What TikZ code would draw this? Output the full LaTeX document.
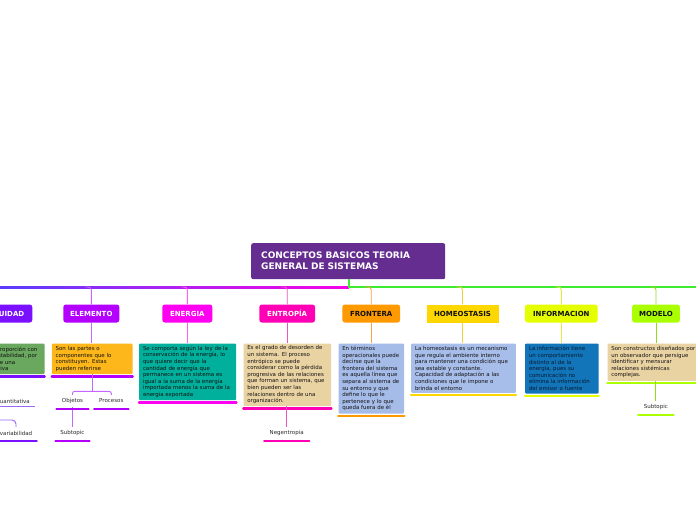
\documentclass[tikz,border=0pt]{standalone}
\usepackage{fontspec}
\setmainfont{DejaVu Sans}
\usetikzlibrary{calc}
\definecolor{rootc}{HTML}{662D91}
\definecolor{lineL}{HTML}{5A3CFF}
\definecolor{lineM}{HTML}{B020F0}
\definecolor{lineR}{HTML}{F700E6}
\definecolor{lineG}{HTML}{3DEB2F}
\definecolor{cA}{HTML}{7B0FFF}
\definecolor{cB}{HTML}{B300FF}
\definecolor{cC}{HTML}{FF00F0}
\definecolor{cD}{HTML}{FF00B4}
\definecolor{cE}{HTML}{FF9900}
\definecolor{cF}{HTML}{FFD700}
\definecolor{cG}{HTML}{E6FF00}
\definecolor{cH}{HTML}{AAFF00}
\definecolor{dA}{HTML}{9A66FF}
\definecolor{dB}{HTML}{C466FF}
\definecolor{dC}{HTML}{FF60F2}
\definecolor{dD}{HTML}{EE55BB}
\definecolor{dE}{HTML}{F5A545}
\definecolor{dF}{HTML}{F0D03A}
\definecolor{dG}{HTML}{E0EC45}
\definecolor{dH}{HTML}{90DC25}
\definecolor{eA}{HTML}{6AA85F}
\definecolor{eB}{HTML}{FDB71A}
\definecolor{eC}{HTML}{00B09C}
\definecolor{eD}{HTML}{EAD3A3}
\definecolor{eE}{HTML}{A6BCE8}
\definecolor{eF}{HTML}{A8BEEA}
\definecolor{eG}{HTML}{1274B9}
\definecolor{darktext}{HTML}{111111}
\definecolor{desctext}{HTML}{111111}
\definecolor{subtext}{HTML}{2A2A2A}
\definecolor{infotext}{HTML}{0A1A2E}
\newcommand{\myline}[1]{\mbox{#1}}
\begin{document}
\begin{tikzpicture}[x=1pt,y=-1pt,
  topic/.style={rectangle, rounded corners=2.5pt, minimum height=18pt, inner sep=0pt, font=\fontsize{7}{8}\selectfont\bfseries},
  desc/.style={rectangle, rounded corners=1pt, anchor=north west, inner xsep=3.8pt, inner ysep=0pt, align=left, font=\fontsize{5.45}{6.6}\selectfont, text=desctext},
  subt/.style={rectangle, inner sep=0pt, minimum height=12pt, font=\fontsize{5.5}{6.6}\selectfont, text=subtext},
  bar/.style={line width=2.3pt, line cap=round},
  link/.style={line width=0.9pt},
]
\useasboundingbox (0,0) rectangle (696,520);
\clip (0,0) rectangle (696,520);
\fill[white] (0,0) rectangle (696,520);

% root
\node[fill=rootc, rounded corners=2pt, anchor=north west, minimum width=194pt, minimum height=36pt, text width=174pt, inner xsep=10pt, inner ysep=0pt, align=left, text=white, font=\fontsize{9}{11}\selectfont\bfseries] (root) at (251,243) {CONCEPTOS BASICOS TEORIA\\GENERAL DE SISTEMAS};

% trunk
\coordinate (hub) at (348.5,287);
\coordinate (rightend) at (700,287);
\shade[left color=lineL, right color=lineM] (0,286) rectangle (175,288.2);
\shade[left color=lineM, right color=lineR] (174.5,286) rectangle (349,288.2);
\draw[line width=2pt, color=lineG] (root.south -| hub) -- (hub) -- (rightend);

% topics
\node[topic, fill=cA, text=white, minimum width=71.5pt] (t0) at (-3.5,313.5) {CONTINUIDAD};
\node[topic, fill=cB, text=white, minimum width=56pt] (t1) at (91.3,313.5) {ELEMENTO};
\node[topic, fill=cC, text=white, minimum width=50pt] (t2) at (187.3,313.5) {ENERGIA};
\node[topic, fill=cD, text=white, minimum width=55.7pt] (t3) at (287.2,313.5) {ENTROPÍA};
\node[topic, fill=cE, text=darktext, minimum width=57.7pt] (t4) at (371.2,313.5) {FRONTERA};
\node[topic, fill=cF, text=darktext, minimum width=72pt, rounded corners=0pt] (t5) at (462.5,313.5) {HOMEOSTASIS};
\node[topic, fill=cG, text=darktext, minimum width=72.7pt] (t6) at (561.3,313.5) {INFORMACION};
\node[topic, fill=cH, text=darktext, minimum width=47.7pt] (t7) at (656,313.5) {MODELO};

% drops from trunk
\foreach \t/\c in {t0/dA,t1/dB,t2/dC,t3/dD,t4/dE,t5/dF,t6/dG,t7/dH}{
  \draw[link, color=\c, rounded corners=3pt] ($(\t.north |- hub)+(-6,0)$) -| (\t.north);
}

% descriptions
\node[desc, fill=eA, text width=52.7pt, minimum height=30.7pt] (e0) at (-16,343.3) {\myline{en proporción con}\\\myline{la estabilidad, por}\\\myline{sobre una}\\\myline{relativa}};
\node[desc, fill=eB, text width=73pt, minimum height=30.7pt] (e1) at (51.7,343.3) {\myline{Son las partes o}\\\myline{componentes que lo}\\\myline{constituyen. Estas}\\\myline{pueden referirse}};
\node[desc, fill=eC, text width=89.4pt, minimum height=56.7pt] (e2) at (139,343.3) {\myline{Se comporta según la ley de la}\\\myline{conservación de la energía, lo}\\\myline{que quiere decir que la}\\\myline{cantidad de energía que}\\\myline{permanece en un sistema es}\\\myline{igual a la suma de la energía}\\\myline{importada menos la suma de la}\\\myline{energía exportada}};
\node[desc, fill=eD, text width=80.1pt, minimum height=62.7pt] (e3) at (243.3,343.3) {\myline{Es el grado de desorden de}\\\myline{un sistema. El proceso}\\\myline{entrópico se puede}\\\myline{considerar como la pérdida}\\\myline{progresiva de las relaciones}\\\myline{que forman un sistema, que}\\\myline{bien pueden ser las}\\\myline{relaciones dentro de una}\\\myline{organización.}};
\node[desc, fill=eE, text width=58.1pt, minimum height=70pt] (e4) at (338.3,343.3) {\myline{En términos}\\\myline{operacionales puede}\\\myline{decirse que la}\\\myline{frontera del sistema}\\\myline{es aquella línea que}\\\myline{separa al sistema de}\\\myline{su entorno y que}\\\myline{define lo que le}\\\myline{pertenece y lo que}\\\myline{queda fuera de él}};
\node[desc, fill=eF, text width=97.1pt, minimum height=49.4pt] (e5) at (411,343.3) {\myline{La homeostasis es un mecanismo}\\\myline{que regula el ambiente interno}\\\myline{para mantener una condición que}\\\myline{sea estable y constante.}\\\myline{Capacidad de adaptación a las}\\\myline{condiciones que le impone o}\\\myline{brinda el entorno}};
\node[desc, fill=eG, text=infotext, text width=65.7pt, minimum height=50pt] (e6) at (525,343.3) {\myline{La información tiene}\\\myline{un comportamiento}\\\myline{distinto al de la}\\\myline{energía, pues su}\\\myline{comunicación no}\\\myline{elimina la información}\\\myline{del emisor o fuente}};
\node[desc, fill=eD, text width=92.4pt, minimum height=37.4pt] (e7) at (607.3,343.3) {\myline{Son constructos diseñados por}\\\myline{un observador que persigue}\\\myline{identificar y mensurar}\\\myline{relaciones sistémicas}\\\myline{complejas.}};

% topic -> description connectors
\foreach \t/\e/\c in {t0/e0/dA,t1/e1/dB,t2/e2/dC,t3/e3/dD,t4/e4/dE,t5/e5/dF,t6/e6/dG,t7/e7/dH}{
  \draw[link, color=\c] (\t.south) -- (\t.south |- \e.north);
}

% description underline bars
\foreach \e/\c in {e0/cA,e1/cB,e2/cC,e3/cD,e4/cE,e5/cF,e6/cG,e7/cH}{
  \draw[bar, color=\c] ($(\e.south west)+(0,2)$) -- ($(\e.south east)+(0,2)$);
}

% subtopics
\node[subt, minimum width=44pt] (s0a) at (13,401) {Cuantitativa};
\node[subt, minimum width=46pt] (s0b) at (13.5,433) {Invariabilidad};
\node[subt, minimum width=31.6pt] (s1a) at (72.5,401) {Objetos};
\node[subt, minimum width=34pt] (s1b) at (111.3,401) {Procesos};
\node[subt, minimum width=33.6pt] (s1c) at (72.5,433) {Subtopic};
\node[subt, minimum width=44.7pt] (s3) at (286.7,433) {Negentropia};
\node[subt, minimum width=35pt] (s7) at (655.8,407.3) {Subtopic};

% subtopic connectors
\coordinate (lc) at (-5,420);
\draw[link, color=dA, rounded corners=4pt] (lc) -| ($(s0b.north)+(2.5,0)$);
\draw[line width=0.8pt, color=dA] ($(s0a.south west)+(0,-1)$) -- ($(s0a.south east)+(0,-1)$);
\coordinate (j1) at ($(e1.south)+(0,17)$);
\draw[link, color=dB] (e1.south) -- (j1);
\draw[link, color=dB, rounded corners=2pt] (s1a.north) |- (j1) -| (s1b.north);
\draw[link, color=dB] (s1a.south) -- (s1c.north);
\draw[link, color=dD] (s3.north |- e3.south) -- (s3.north);
\draw[link, color=dH] (s7.north |- e7.south) -- (s7.north);

% subtopic underline bars
\foreach \s/\c in {s0b/cA,s1a/cB,s1b/cB,s1c/cB,s3/cD,s7/cH}{
  \draw[bar, color=\c] ($(\s.south west)+(0,1.5)$) -- ($(\s.south east)+(0,1.5)$);
}
\end{tikzpicture}
\end{document}
